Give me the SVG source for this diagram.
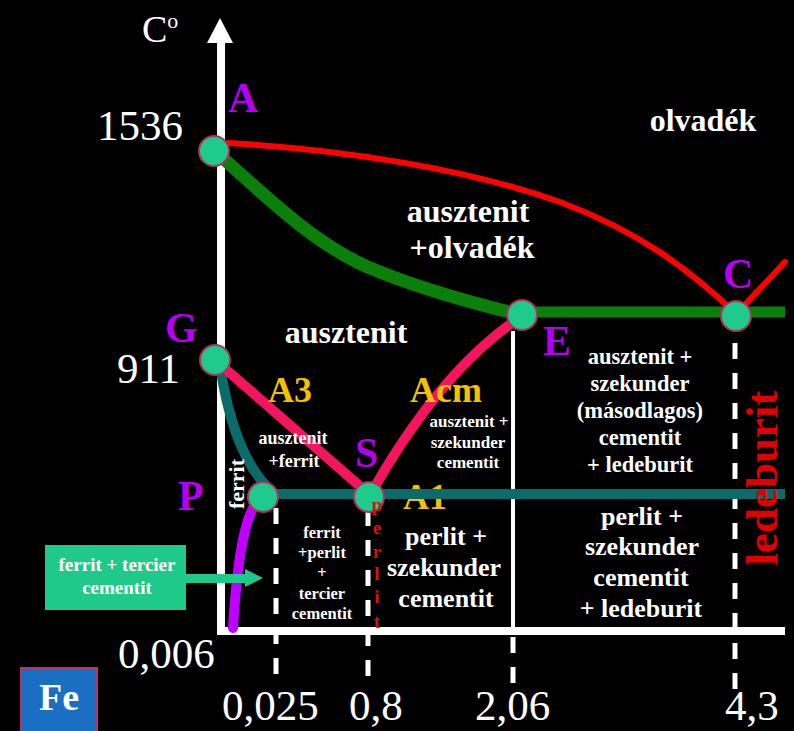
<svg xmlns="http://www.w3.org/2000/svg" width="794" height="731" viewBox="0 0 794 731" font-family="'Liberation Serif', 'DejaVu Serif', serif">
<defs>
<style>
.num{fill:#fff;font-size:43px}
.pt{fill:#b400f0;font-size:42px;font-weight:bold}
.yl{fill:#f5c000;font-size:36px;font-weight:bold}
.wb{fill:#fff;font-weight:bold;text-anchor:middle}
.node{fill:#1fcb8c;stroke:#b0305e;stroke-width:2}
.dash{stroke:#fff;stroke-width:5;stroke-dasharray:16 14;fill:none}
.cv{fill:none;stroke-linecap:round}
</style>
</defs>
<rect width="794" height="731" fill="#000"/>

<g id="axes">
<line x1="221" y1="40" x2="221" y2="635" stroke="#fff" stroke-width="8"/>
<polygon points="220,18 207,43 233,43" fill="#fff"/>
<line x1="217" y1="631" x2="785" y2="631" stroke="#fff" stroke-width="8"/>
<text x="142" y="42" fill="#fff" font-size="38">C<tspan font-size="22" dy="-14">o</tspan></text>
</g>

<g id="guides">
<line x1="513" y1="331" x2="513" y2="630" stroke="#fff" stroke-width="4"/>
<line class="dash" x1="513" y1="637" x2="513" y2="683" stroke-dasharray="14 16"/>
<line class="dash" x1="276" y1="508" x2="276" y2="688"/>
<line class="dash" x1="368" y1="510" x2="368" y2="688"/>
<line class="dash" x1="735" y1="343" x2="735" y2="690" stroke-dasharray="15 15"/>
</g>

<text class="yl" x="403" y="509">A1</text>

<g id="connectors">
<path class="cv" d="M228,143 C350,150 470,170 560,202 C640,232 690,270 735,313" stroke="#f00" stroke-width="6"/>
<path class="cv" d="M740,310 L785,262" stroke="#f00" stroke-width="6"/>
<path class="cv" d="M215,151 C270,200 320,250 380,272 C430,292 480,305 522,315" stroke="#0a7f0a" stroke-width="13"/>
<line x1="522" y1="312" x2="785" y2="312" stroke="#0a7f0a" stroke-width="11"/>
<path class="cv" d="M220,365 C228,420 245,470 275,494" stroke="#0b6b6b" stroke-width="10"/>
<line x1="263" y1="494" x2="785" y2="494" stroke="#0b6b6b" stroke-width="10"/>
<path class="cv" d="M215,360 L370,495" stroke="#f5145f" stroke-width="10"/>
<path class="cv" d="M369,497 Q440,370 522,316" stroke="#f5145f" stroke-width="10"/>
<path class="cv" d="M262,498 C248,505 238,545 233,628" stroke="#c000ff" stroke-width="10" stroke-linecap="butt"/>
</g>

<g id="A"><circle class="node" cx="214" cy="151" r="15"/><text class="pt" x="228" y="112">A</text><text class="num" x="183" y="140" text-anchor="end">1536</text></g>
<g id="G"><circle class="node" cx="215" cy="360" r="15"/><text class="pt" x="165" y="342">G</text><text class="num" x="180" y="383" text-anchor="end">911</text></g>
<g id="P"><circle class="node" cx="263" cy="497" r="15"/><text class="pt" x="178" y="510">P</text></g>
<g id="S"><circle class="node" cx="369" cy="497" r="15"/><text class="pt" x="355" y="467">S</text></g>
<g id="E"><circle class="node" cx="522" cy="315" r="15"/><text class="pt" x="543" y="355">E</text></g>
<g id="C"><circle class="node" cx="736" cy="316" r="15"/><text class="pt" x="723" y="288">C</text></g>

<g id="labels">
<text class="wb" x="703" y="131" font-size="32">olvadék</text>
<text class="wb" x="468" y="222" font-size="32">ausztenit</text>
<text class="wb" x="472" y="258" font-size="32">+olvadék</text>
<text class="wb" x="346" y="343" font-size="32">ausztenit</text>
<text class="yl" x="268" y="402">A3</text>
<text class="yl" x="410" y="402">Acm</text>
<text class="wb" font-size="18"><tspan x="293" y="444">ausztenit</tspan><tspan x="294" y="467">+ferrit</tspan></text>
<text class="wb" x="0" y="0" font-size="22" transform="translate(244,484) rotate(-90)">ferrit</text>
<text class="wb" font-size="17"><tspan x="469" y="427">ausztenit +</tspan><tspan x="468" y="448">szekunder</tspan><tspan x="468" y="468">cementit</tspan></text>
<text class="wb" font-size="22.5"><tspan x="640" y="364">ausztenit +</tspan><tspan x="640" y="391">szekunder</tspan><tspan x="640" y="418">(másodlagos)</tspan><tspan x="640" y="445">cementit</tspan><tspan x="640" y="472">+ ledeburit</tspan></text>
<text class="wb" font-size="26"><tspan x="446" y="545">perlit +</tspan><tspan x="444" y="576">szekunder</tspan><tspan x="446" y="607">cementit</tspan></text>
<text class="wb" font-size="26"><tspan x="642" y="525">perlit +</tspan><tspan x="642" y="555">szekunder</tspan><tspan x="641" y="586">cementit</tspan><tspan x="641" y="617">+ ledeburit</tspan></text>
<text class="wb" font-size="16.5"><tspan x="322" y="538">ferrit</tspan><tspan x="322" y="558">+perlit</tspan><tspan x="322" y="578">+</tspan><tspan x="322" y="599">tercier</tspan><tspan x="322" y="619">cementit</tspan></text>
<text x="0" y="0" fill="#e00000" font-size="45" font-weight="bold" text-anchor="middle" transform="translate(777,478) rotate(-90)">ledeburit</text>
<text fill="#d81010" font-size="19" font-weight="bold" text-anchor="middle"><tspan x="377" y="511">p</tspan><tspan x="377" y="534">e</tspan><tspan x="377" y="558">r</tspan><tspan x="377" y="580">l</tspan><tspan x="377" y="603">i</tspan><tspan x="377" y="628">t</tspan></text>
</g>

<g id="callout">
<rect x="45" y="545" width="141" height="65" fill="#1fc98a"/>
<rect x="184" y="574" width="63" height="9" fill="#1fc98a"/>
<polygon points="245,569 263,578 245,587" fill="#1fc98a"/>
<text class="wb" font-size="19"><tspan x="117" y="571">ferrit + tercier</tspan><tspan x="117" y="594">cementit</tspan></text>
</g>

<g id="ticks">
<text class="num" x="118" y="668" font-size="44">0,006</text>
<text class="num" x="222" y="720" font-size="44">0,025</text>
<text class="num" x="349" y="720" font-size="44">0,8</text>
<text class="num" x="475" y="720" font-size="44">2,06</text>
<text class="num" x="725" y="720" font-size="44">4,3</text>
</g>

<g id="Fe">
<rect x="21" y="668" width="76" height="70" fill="#1b6fc2" stroke="#c0306a" stroke-width="2"/>
<text x="59" y="710" fill="#fff" font-size="38" font-weight="bold" text-anchor="middle">Fe</text>
</g>
</svg>
